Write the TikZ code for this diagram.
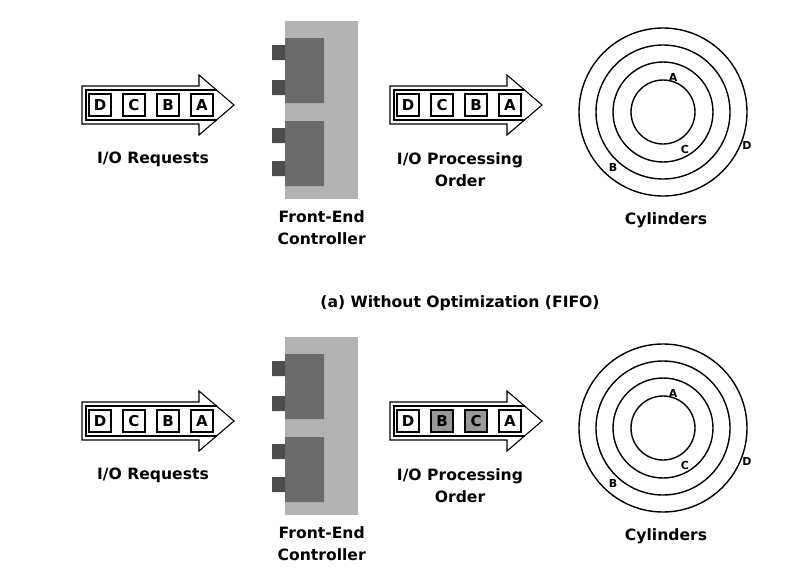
\documentclass[tikz,border=0pt]{standalone}
\usepackage{fontspec}
\setmainfont{DejaVu Sans}
\usetikzlibrary{positioning,calc}

\definecolor{ctrlgray}{HTML}{B3B3B3}
\definecolor{blockgray}{HTML}{6B6B6B}
\definecolor{portgray}{HTML}{4D4D4D}
\definecolor{busygray}{HTML}{999999}

\tikzset{
  letterbox/.style={draw, line width=1.1pt, minimum size=22pt, inner sep=0pt, font=\bfseries\fontsize{15}{15}\selectfont},
  queuearrow/.style={draw, line width=1.1pt, line join=miter},
  track/.style={draw, circle, line width=1.4pt, inner sep=0pt},
  textlabel/.style={align=center, font=\bfseries\fontsize{15.6}{22}\selectfont},
  tracklabel/.style={inner sep=0pt, font=\bfseries\fontsize{11}{11}\selectfont},
}

\begin{document}
\begin{tikzpicture}[x=1pt, y=-1pt]
  \useasboundingbox (0,0) rectangle (793,576);
  \foreach \p/\dy/\order in {1/0/{D/white,C/white,B/white,A/white},
                             2/316/{D/white,B/busygray,C/busygray,A/white}} {
    \begin{scope}[shift={(0,\dy)}]
      % queue arrows
      \foreach \ox in {0,308} {
        \draw[queuearrow] (82+\ox,86) -- (199+\ox,86) -- (199+\ox,75) -- (234+\ox,105)
          -- (199+\ox,135) -- (199+\ox,124) -- (82+\ox,124) -- cycle;
        \draw[queuearrow] (216.5+\ox,90) -- (86+\ox,90) -- (86+\ox,120) -- (216.5+\ox,120);
      }
      \foreach \l [count=\i] in {D,C,B,A}
        \node[letterbox] (req\l\p) at (66+34*\i,105) {\l};
      \foreach \l/\f [count=\i] in \order
        \node[letterbox, fill=\f] (ord\l\p) at (374+34*\i,105) {\l};
      \node[textlabel] (reqlbl\p) at (153,159) {I/O Requests};
      \node[textlabel] (ordlbl\p) at (460,170) {I/O Processing\\Order};

      % controller
      \node[fill=ctrlgray, minimum width=73pt, minimum height=178pt, anchor=north west, inner sep=0pt] (ctrl\p) at (285,21) {};
      \fill[blockgray] (285,38) rectangle (324,103) (285,121) rectangle (324,186);
      \fill[portgray] foreach \y in {45,80,128,161} {(272,\y) rectangle (285,\y+15)};
      \node[textlabel, below=8pt of ctrl\p] (ctrllbl\p) {Front-End\\Controller};

      % disk
      \coordinate (disk\p) at (663,112);
      \foreach \r [count=\k] in {32,50,67,84}
        \node[track, minimum size=2*\r] (trk\k\p) at (disk\p) {};
      \node[tracklabel] (cylA\p) at (673,77) {A};
      \node[tracklabel] (cylC\p) at (685,149) {C};
      \node[tracklabel] (cylB\p) at (613,167) {B};
      \node[tracklabel] (cylD\p) at (747,145) {D};
      \node[textlabel] (cyllbl\p) at (666,220) {Cylinders};
    \end{scope}
  }
  \node[textlabel] (capa) at (460,303) {(a) Without Optimization (FIFO)};
\end{tikzpicture}
\end{document}
